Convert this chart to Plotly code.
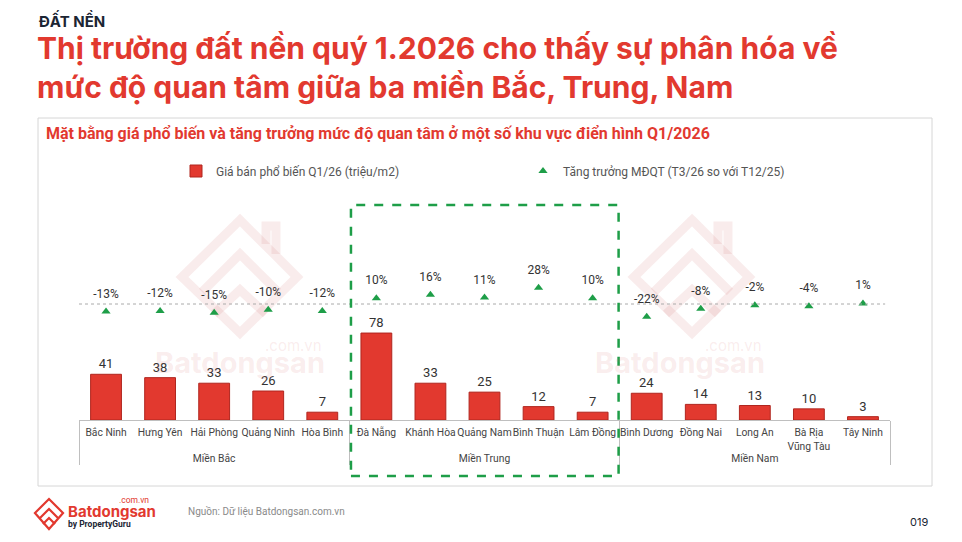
import plotly.graph_objects as go

regions = ["Miền Bắc"] * 5 + ["Miền Trung"] * 5 + ["Miền Nam"] * 5
provinces = ["Bắc Ninh", "Hưng Yên", "Hải Phòng", "Quảng Ninh", "Hòa Bình",
             "Đà Nẵng", "Khánh Hòa", "Quảng Nam", "Bình Thuận", "Lâm Đồng",
             "Bình Dương", "Đồng Nai", "Long An", "Bà Rịa<br>Vũng Tàu", "Tây Ninh"]
price = [41, 38, 33, 26, 7, 78, 33, 25, 12, 7, 24, 14, 13, 10, 3]
growth = [-13, -12, -15, -10, -12, 10, 16, 11, 28, 10, -22, -8, -2, -4, 1]
growth_labels = [f"{g}%" for g in growth]

RED = "#E2392F"
GREEN = "#1E9E48"
x = [regions, provinces]

# plot area in pixels (for placing decorations in paper coords)
L, R, T, B = 79, 890, 150, 420


def P(px, py):
    return f"{(px - L) / (R - L):.4f},{(B - py) / (B - T):.4f}"


def px_x(px):
    return (px - L) / (R - L)


def px_y(py):
    return (B - py) / (B - T)


fig = go.Figure()
fig.add_trace(go.Bar(
    x=x, y=price, name="Giá bán phổ biến Q1/26 (triệu/m2)",
    marker=dict(color=RED, line=dict(color="#B0261F", width=1)),
    width=0.57, text=price, textposition="outside",
    textfont=dict(size=13, color="#333333", family="Roboto"),
    cliponaxis=False, yaxis="y",
))
fig.add_trace(go.Scatter(
    x=x, y=growth, name="Tăng trưởng MĐQT (T3/26 so với T12/25)",
    mode="markers", marker=dict(symbol="triangle-up", size=8, color=GREEN),
    yaxis="y2", cliponaxis=False,
))
fig.add_trace(go.Scatter(
    x=x, y=growth, mode="markers+text", text=growth_labels, textposition="top center",
    marker=dict(size=16, opacity=0),
    textfont=dict(size=12, color="#333333", family="Roboto"),
    yaxis="y2", showlegend=False, cliponaxis=False, hoverinfo="skip",
))

wm = "rgba(215,120,120,0.14)"
shapes = []
# chart container border
shapes.append(dict(type="rect", xref="paper", yref="paper",
                   x0=px_x(38), x1=px_x(932), y0=px_y(486), y1=px_y(118),
                   line=dict(color="#D6D6D6", width=1), fillcolor="rgba(0,0,0,0)", layer="below"))
# dotted zero reference line for growth
shapes.append(dict(type="line", xref="paper", yref="y2", x0=0, x1=0.994, y0=0, y1=0,
                   line=dict(color="#AAAAAA", width=1, dash="dot")))
# green dashed highlight box around Miền Trung
shapes.append(dict(type="rect", xref="x", yref="paper", x0=4.53, x1=9.48, y0=px_y(476), y1=px_y(205),
                   line=dict(color=GREEN, width=2.5, dash="dash"), fillcolor="rgba(0,0,0,0)"))

# faint house-logo watermarks
for dx in (0, 452):
    def Q(a, b):
        return P(a + dx, b)
    outer = f"M {Q(240,220)} L {Q(297,277)} L {Q(240,333)} L {Q(182,277)} Z"
    inner1 = f"M {Q(202,292)} L {Q(240,254)} L {Q(278,292)}"
    inner2 = f"M {Q(214,314)} L {Q(240,290)} L {Q(266,314)}"
    chim = f"M {Q(266,244)} L {Q(266,226)} L {Q(276,226)} L {Q(276,254)}"
    for pth in (outer, inner1, inner2, chim):
        shapes.append(dict(type="path", xref="paper", yref="paper", path=pth,
                           line=dict(color=wm, width=9), fillcolor="rgba(0,0,0,0)", layer="below"))

# footer logo icon
icon_outer = f"M {P(49,499)} L {P(63,513)} L {P(49,529)} L {P(35,513)} Z"
icon_in1 = f"M {P(40,518)} L {P(49,509)} L {P(58,518)}"
icon_in2 = f"M {P(43,524)} L {P(49,518)} L {P(55,524)}"
for pth in (icon_outer, icon_in1, icon_in2):
    shapes.append(dict(type="path", xref="paper", yref="paper", path=pth,
                       line=dict(color=RED, width=2.2), fillcolor="rgba(0,0,0,0)"))

annotations = [
    dict(text="<b>ĐẤT NỀN</b>", xref="paper", yref="paper", x=px_x(37), y=px_y(21), xanchor="left", yanchor="middle",
         showarrow=False, font=dict(size=15, color="#1B2533", family="Inter")),
    dict(text="<b>Thị trường đất nền quý 1.2026 cho thấy sự phân hóa về<br>mức độ quan tâm giữa ba miền Bắc, Trung, Nam</b>",
         xref="paper", yref="paper", x=px_x(35), y=px_y(68), xanchor="left", yanchor="middle", align="left",
         showarrow=False, font=dict(size=30, color=RED, family="Inter")),
    dict(text="<b>Mặt bằng giá phổ biến và tăng trưởng mức độ quan tâm ở một số khu vực điển hình Q1/2026</b>",
         xref="paper", yref="paper", x=px_x(44), y=px_y(133), xanchor="left", yanchor="middle",
         showarrow=False, font=dict(size=16, color=RED, family="Roboto")),
    dict(text="<b>Batdongsan</b>", xref="paper", yref="paper", x=px_x(240), y=px_y(362),
         xanchor="center", yanchor="middle",
         showarrow=False, font=dict(size=29, color=wm, family="Inter")),
    dict(text=".com.vn", xref="paper", yref="paper", x=px_x(293), y=px_y(345),
         xanchor="center", yanchor="middle",
         showarrow=False, font=dict(size=15, color=wm, family="Inter")),
    dict(text="<b>Batdongsan</b>", xref="paper", yref="paper", x=px_x(680), y=px_y(362),
         xanchor="center", yanchor="middle",
         showarrow=False, font=dict(size=29, color=wm, family="Inter")),
    dict(text=".com.vn", xref="paper", yref="paper", x=px_x(733), y=px_y(345),
         xanchor="center", yanchor="middle",
         showarrow=False, font=dict(size=15, color=wm, family="Inter")),
    dict(text="<b>Batdongsan</b>", xref="paper", yref="paper", x=px_x(66), y=px_y(511), xanchor="left", yanchor="middle",
         showarrow=False, font=dict(size=15, color=RED, family="Inter")),
    dict(text=".com.vn", xref="paper", yref="paper", x=px_x(151), y=px_y(500), xanchor="right", yanchor="middle",
         showarrow=False, font=dict(size=8.5, color=RED, family="Roboto")),
    dict(text="<b>by PropertyGuru</b>", xref="paper", yref="paper", x=px_x(66), y=px_y(524), xanchor="left", yanchor="middle",
         showarrow=False, font=dict(size=8.5, color="#1B2533", family="Roboto")),
    dict(text="Nguồn: Dữ liệu Batdongsan.com.vn", xref="paper", yref="paper", x=px_x(186), y=px_y(512),
         xanchor="left", yanchor="middle", showarrow=False, font=dict(size=10, color="#8A8A8A", family="Roboto")),
    dict(text="019", xref="paper", yref="paper", x=px_x(930), y=px_y(522), xanchor="right", yanchor="middle",
         showarrow=False, font=dict(size=11, color="#1B2533", family="Inter")),
]

fig.update_layout(
    width=962, height=542,
    margin=dict(l=L, r=962 - R, t=T, b=542 - B, pad=0, autoexpand=False),
    paper_bgcolor="white", plot_bgcolor="white",
    font=dict(family="Roboto", color="#444444"),
    showlegend=True,
    legend=dict(orientation="h", x=px_x(176), xanchor="left", y=px_y(171), yanchor="middle",
                entrywidth=302, entrywidthmode="pixels",
                font=dict(size=12, color="#555555", family="Roboto"), itemwidth=30,
                bgcolor="rgba(0,0,0,0)"),
    xaxis=dict(type="multicategory", showline=True, linecolor="#BFBFBF", linewidth=1,
               ticks="", showdividers=True, dividercolor="#BFBFBF", dividerwidth=1, tickangle=0,
               automargin=False, range=[-0.5, 14.5], ticklabelstandoff=3,
               tickfont=dict(size=10.3, color="#444444", family="Roboto"), showgrid=False),
    yaxis=dict(range=[0, 242.2], visible=False, showgrid=False, zeroline=False),
    yaxis2=dict(range=[-200, 265.5], overlaying="y", visible=False, showgrid=False, zeroline=False),
    shapes=shapes, annotations=annotations,
)

fig.write_html("out.html", post_script="document.body.style.margin='0px';",
               config={"displayModeBar": False})
